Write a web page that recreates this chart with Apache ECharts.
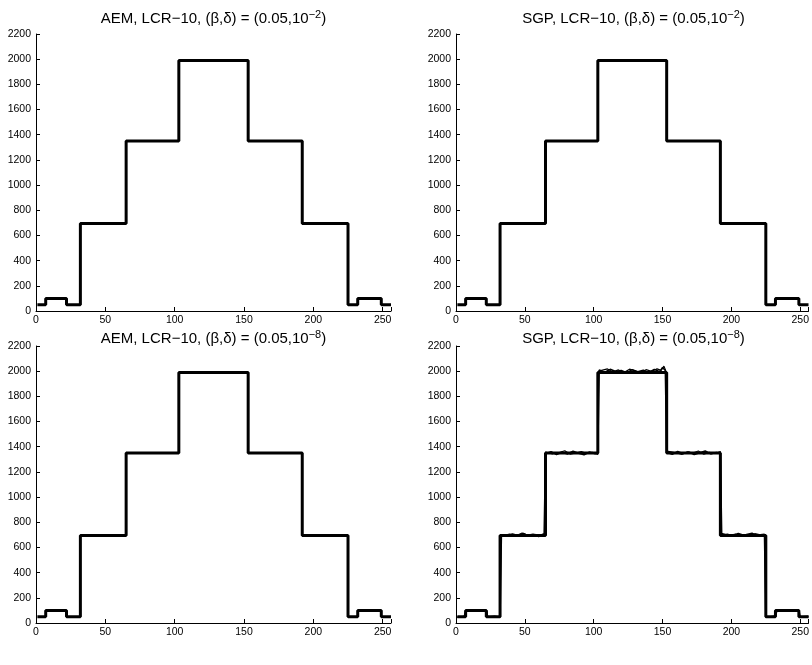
<!DOCTYPE html>
<html>
<head>
<meta charset="utf-8">
<script src="https://cdn.jsdelivr.net/npm/echarts@6/dist/echarts.min.js"></script>
<style>html,body{margin:0;padding:0;background:#fff}#c{width:812px;height:665px}</style>
</head>
<body>
<div id="c"></div>
<script>
// Piecewise-constant reconstruction: level holds from stepX[i] until stepX[i+1]
const stepX = [1, 7, 22, 32, 65, 103, 153, 192, 225, 232, 249, 256];
const stepY = [50, 100, 50, 695, 1350, 1990, 1350, 695, 50, 100, 50, 50];

// Noisy traces for SGP, delta=1e-8 panel, hand-estimated
const sgpNoisyX = [1,6,7,12,17,22,23,28,32,33,37,41,45,49,53,57,61,64,65,69,73,77,81,85,89,93,97,101,103,104,108,112,116,120,124,128,132,136,140,144,148,150,152,153,157,161,165,169,173,177,181,185,189,192,193,197,201,205,209,213,217,221,224,225,229,232,233,238,243,249,250,256];
const sgpNoisyY = [48,52,98,104,96,102,47,53,46,702,690,708,696,712,688,704,695,710,1345,1360,1338,1356,1342,1365,1348,1336,1358,1344,1352,2010,1992,2015,1998,2006,1988,2012,1995,2008,1990,2014,1996,2030,2005,1355,1340,1362,1345,1358,1338,1352,1366,1343,1355,1348,688,705,694,712,698,690,708,700,705,52,46,50,97,104,95,102,48,53];
const sgpNoisy2X = [1,7,7.5,14,20,22.5,23,30,32,32.6,39,44,48,52,56,60,64.5,65,70,75,79,83,87,91,95,99,103,103.6,110,114,118,122,126,130,134,138,142,146,149,151,152.6,153.2,160,164,168,172,176,180,184,188,192,192.6,199,203,207,211,215,219,224.4,225,231,232,232.5,240,246,249,249.5,256];
const sgpNoisy2Y = [45,55,95,102,99,97,52,45,50,690,706,694,715,698,706,685,702,1358,1342,1354,1368,1340,1350,1362,1346,1356,1338,2000,2018,1994,2010,1990,2016,2002,1986,2012,1998,2018,2006,2040,1995,1365,1352,1338,1360,1350,1366,1340,1356,1346,1362,712,696,706,688,704,714,692,698,44,54,48,102,96,106,98,50,46];

const titles = [
  ['AEM', '−2'], ['SGP', '−2'], ['AEM', '−8'], ['SGP', '−8']
];
const xTicks = [0, 50, 100, 150, 200, 250];
const yMin = 0, yMax = 2200, yStep = 200;
const xMin = 0, xMax = 256;

const grids = [
  {left: 36, top: 34, width: 355, height: 277},
  {left: 456, top: 34, width: 355, height: 277},
  {left: 36, top: 346, width: 355, height: 277},
  {left: 456, top: 346, width: 355, height: 277}
];
const titleTops = [9, 9, 329, 329];

const FONT = 'Liberation Sans, Arial, Helvetica, sans-serif';
const stepData = stepX.map((x, i) => [x, stepY[i]]);
const noisyData = sgpNoisyX.map((x, i) => [x, sgpNoisyY[i]]);
const noisyData2 = sgpNoisy2X.map((x, i) => [x, sgpNoisy2Y[i]]);

const option = {
  animation: false,
  backgroundColor: '#fff',
  title: titles.map((t, i) => ({
    text: t[0] + ', LCR−10, (β,δ) = (0.05,10{sup|' + t[1] + '})',
    left: grids[i].left + grids[i].width / 2,
    textAlign: 'center',
    top: titleTops[i],
    padding: 0,
    textStyle: {
      fontFamily: FONT, fontSize: 15, fontWeight: 'normal', color: '#000',
      rich: {sup: {fontFamily: FONT, fontSize: 11, color: '#000', padding: [0, 0, 9, 0]}}
    }
  })),
  grid: grids,
  xAxis: grids.map((g, i) => ({
    type: 'value', gridIndex: i, min: xMin, max: xMax, interval: 50,
    axisLine: {show: true, onZero: false, lineStyle: {color: '#000', width: 1}},
    axisTick: {show: true, inside: true, length: 4, lineStyle: {color: '#000'}},
    axisLabel: {fontFamily: FONT, fontSize: 10.5, color: '#000', margin: 4,
      formatter: v => xTicks.includes(v) ? String(v) : ''},
    splitLine: {show: false}
  })),
  yAxis: grids.map((g, i) => ({
    type: 'value', gridIndex: i, min: yMin, max: yMax, interval: yStep,
    axisLine: {show: true, onZero: false, lineStyle: {color: '#000', width: 1}},
    axisTick: {show: true, inside: true, length: 4, lineStyle: {color: '#000'}},
    axisLabel: {fontFamily: FONT, fontSize: 10.5, color: '#000', margin: 5,
      formatter: v => String(v)},
    splitLine: {show: false}
  })),
  series: [
    ...grids.map((g, i) => ({
      type: 'line', xAxisIndex: i, yAxisIndex: i, data: stepData, step: 'end',
      showSymbol: false, lineStyle: {color: '#000', width: 3}, z: 3
    })),
    {
      type: 'line', xAxisIndex: 3, yAxisIndex: 3, data: noisyData,
      showSymbol: false, lineStyle: {color: '#000', width: 1.5}, z: 2
    },
    {
      type: 'line', xAxisIndex: 3, yAxisIndex: 3, data: noisyData2,
      showSymbol: false, lineStyle: {color: '#000', width: 1.2}, z: 2
    }
  ]
};

const chart = echarts.init(document.getElementById('c'), null, {renderer: 'canvas'});
chart.setOption(option);
</script>
</body>
</html>
